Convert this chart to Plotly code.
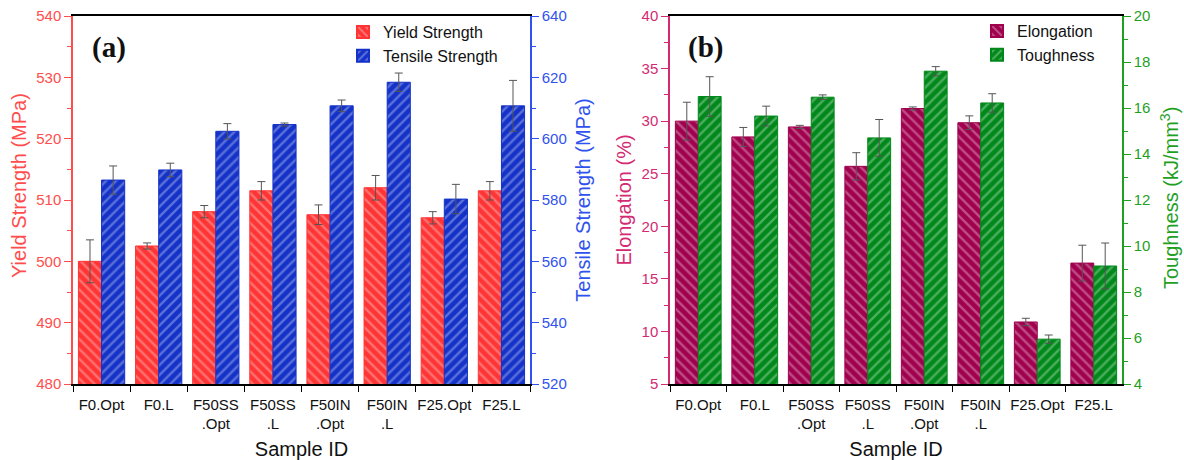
import plotly.graph_objects as go

samples = ["F0.Opt", "F0.L", "F50SS<br>.Opt", "F50SS<br>.L", "F50IN<br>.Opt", "F50IN<br>.L", "F25.Opt", "F25.L"]

yield_strength = [500.0, 502.5, 508.1, 511.5, 507.6, 512.0, 507.1, 511.5]
yield_err = [3.5, 0.5, 1.0, 1.5, 1.6, 2.0, 1.0, 1.5]
tensile_strength = [586.5, 589.8, 602.4, 604.6, 610.7, 618.4, 580.3, 610.7]
tensile_err = [4.6, 2.2, 2.5, 0.5, 1.9, 3.0, 4.8, 8.3]

elongation = [30.0, 28.5, 29.45, 25.7, 31.2, 29.85, 10.9, 16.5]
elongation_err = [1.8, 0.9, 0.15, 1.3, 0.15, 0.65, 0.35, 1.7]
toughness = [16.5, 15.65, 16.47, 14.7, 17.6, 16.22, 5.95, 9.13]
toughness_err = [0.86, 0.43, 0.1, 0.8, 0.2, 0.4, 0.18, 1.0]

RED = "#FF3434"
BLUE = "#1432C8"
MAROON = "#A0004E"
GREEN = "#00891A"
RED_AX = "#FF4D4D"
BLUE_AX = "#2F52EE"
PINK_AX = "#D42A72"
GREEN_AX = "#1FA01F"
FONT = "Liberation Sans, Arial, sans-serif"

W = 1184
H = 460
xa = [73 / W, 530 / W]
xb = [670 / W, 1122 / W]
ydom = [1 - 384 / H, 1 - 16 / H]

BW = 0.405


def bar(name, y, err, color, shape, xaxis, yaxis, offset, legend):
    return go.Bar(
        x=samples, y=y, name=name, xaxis=xaxis, yaxis=yaxis,
        width=BW, offset=offset, legend=legend,
        marker=dict(color=color, line=dict(color=color, width=1),
                    pattern=dict(shape=shape, bgcolor=color,
                                 fgcolor="rgba(255,255,255,0.6)",
                                 size=7, solidity=0.35, fillmode="overlay")),
        error_y=dict(type="data", array=err, color="#555555", thickness=1, width=4),
    )


fig = go.Figure()
fig.add_trace(bar("Yield Strength", yield_strength, yield_err, RED, "\\", "x", "y", -BW, "legend"))
fig.add_trace(bar("Tensile Strength", tensile_strength, tensile_err, BLUE, "/", "x", "y2", 0, "legend"))
fig.add_trace(bar("Elongation", elongation, elongation_err, MAROON, "\\", "x2", "y3", -BW, "legend2"))
fig.add_trace(bar("Toughness", toughness, toughness_err, GREEN, "/", "x2", "y4", 0, "legend2"))


def xax(domain, anchor):
    return dict(domain=domain, anchor=anchor, type="category", automargin=False,
                showline=True, linecolor="black", linewidth=1.5, mirror=True,
                ticks="outside", tickson="boundaries", ticklen=6, tickcolor="black",
                tickangle=0, ticklabelstandoff=6,
                tickfont=dict(family=FONT, size=15, color="#111111"),
                title=dict(text="Sample ID", font=dict(family=FONT, size=20, color="#111111"), standoff=13),
                showgrid=False, zeroline=False, fixedrange=True)


def yax(rng, dtick, mdtick, color, title, side, anchor, standoff, overlaying=None):
    d = dict(domain=ydom, anchor=anchor, range=rng, dtick=dtick, side=side, automargin=False,
             showline=True, linecolor=color, linewidth=1.5,
             ticks="outside", ticklen=7, tickcolor=color, tickwidth=1.2,
             minor=dict(ticks="outside", ticklen=4, dtick=mdtick, tickcolor=color),
             tickfont=dict(family=FONT, size=15, color=color),
             showgrid=False, zeroline=False)
    if title:
        d["title"] = dict(text=title, font=dict(family=FONT, size=20, color=color), standoff=standoff)
    if overlaying:
        d["overlaying"] = overlaying
    return d


def ytitle(text, x, y, color):
    return dict(text=text, xref="paper", yref="paper", x=x / W, y=1 - y / H,
                xanchor="center", yanchor="middle", textangle=-90, showarrow=False,
                font=dict(family=FONT, size=20, color=color))


fig.update_layout(
    width=W, height=H,
    margin=dict(l=0, r=0, t=0, b=0, autoexpand=False),
    paper_bgcolor="white", plot_bgcolor="white",
    barmode="overlay",
    font=dict(family=FONT),
    xaxis=xax(xa, "y"),
    xaxis2=xax(xb, "y3"),
    yaxis=yax([480, 540], 10, 5, RED_AX, None, "left", "x", 6),
    yaxis2=yax([520, 640], 20, 10, BLUE_AX, "Tensile Strength (MPa)", "right", "x", 10, overlaying="y"),
    yaxis3=yax([5, 40], 5, 2.5, PINK_AX, "Elongation (%)", "left", "x2", 5),
    yaxis4=yax([4, 20], 2, 1, GREEN_AX, None, "right", "x2", 13, overlaying="y3"),
    legend=dict(x=343 / W, y=1 - 15 / H, xanchor="left", yanchor="top",
                bgcolor="rgba(0,0,0,0)", font=dict(family=FONT, size=16, color="#111111"),
                tracegroupgap=0, itemsizing="constant"),
    legend2=dict(x=977 / W, y=1 - 14 / H, xanchor="left", yanchor="top",
                 bgcolor="rgba(0,0,0,0)", font=dict(family=FONT, size=16, color="#111111"),
                 tracegroupgap=0, itemsizing="constant"),
    annotations=[
        dict(text="<b>(a)</b>", xref="paper", yref="paper", x=90 / W, y=1 - 48 / H,
             xanchor="left", yanchor="middle", showarrow=False,
             font=dict(family="Liberation Serif, Times New Roman, serif", size=29, color="#111111")),
        dict(text="<b>(b)</b>", xref="paper", yref="paper", x=686 / W, y=1 - 48 / H,
             xanchor="left", yanchor="middle", showarrow=False,
             font=dict(family="Liberation Serif, Times New Roman, serif", size=29, color="#111111")),
        ytitle("Yield Strength (MPa)", 19, 186, RED_AX),
        ytitle("Toughness (kJ/mm<sup>3</sup>)", 1170, 198, GREEN_AX),
    ],
)

fig.write_html("out.html")
